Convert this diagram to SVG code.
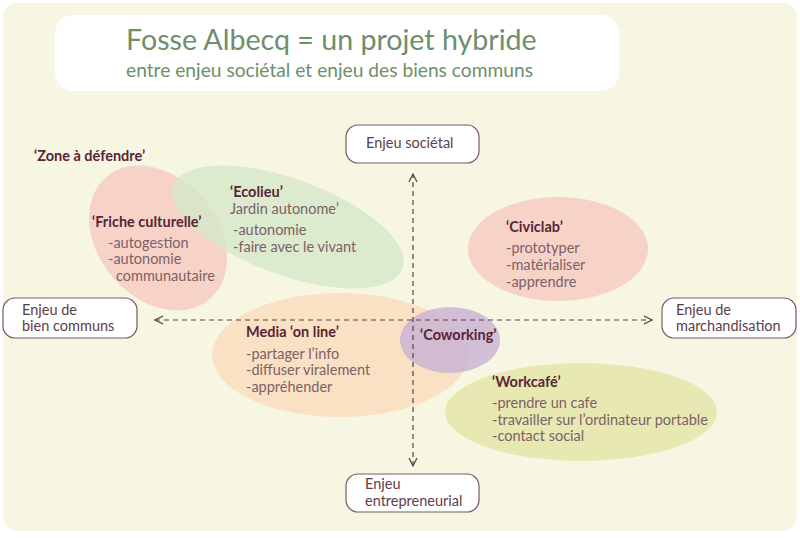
<svg xmlns="http://www.w3.org/2000/svg" width="800" height="538" viewBox="0 0 800 538">
<defs>
<style>
.box{fill:#ffffff;stroke:#7a5a65;stroke-width:1.2}
.lbl{font-family:Lato,"Open Sans","Liberation Sans",sans-serif;font-size:14.5px;fill:#5e3d4a}
.hd{font-family:Lato,"Open Sans","Liberation Sans",sans-serif;font-size:14.5px;font-weight:bold;fill:#5a2438}
.tx{font-family:Lato,"Open Sans","Liberation Sans",sans-serif;font-size:14.5px;fill:#7d6166}
.axis{fill:none;stroke:#5a4048;stroke-width:1.2;stroke-dasharray:5 4}
</style>
<marker id="chev" viewBox="0 0 10 10" refX="9" refY="5" markerWidth="10" markerHeight="10" markerUnits="userSpaceOnUse" orient="auto-start-reverse">
<path d="M1,1 L9,5 L1,9" fill="none" stroke="#5a4048" stroke-width="1.2"/>
</marker>
</defs>
<rect x="0" y="0" width="800" height="538" fill="#ffffff"/>
<rect x="3" y="3" width="794" height="528" rx="14" fill="#f7f6e2"/>
<g id="title">
<rect x="55" y="15" width="564" height="76" rx="18" fill="#ffffff"/>
<text x="126" y="50" font-family="Lato,'Open Sans','Liberation Sans',sans-serif" font-size="28.6" fill="#6d8f6a">Fosse Albecq = un projet hybride</text>
<text x="126" y="77" font-family="Lato,'Open Sans','Liberation Sans',sans-serif" font-size="19.2" fill="#6d8f6a">entre enjeu sociétal et enjeu des biens communs</text>
</g>
<g id="ellipses">
<ellipse id="friche-shape" cx="158" cy="238" rx="80" ry="60" transform="rotate(50 158 238)" fill="#f6cdc1" opacity="0.85"/>
<ellipse id="ecolieu-shape" cx="288" cy="227" rx="122" ry="48" transform="rotate(20 288 227)" fill="#d5e7c9" opacity="0.8"/>
<ellipse id="civiclab-shape" cx="558" cy="249" rx="90" ry="52" fill="#f6cdc1" opacity="0.85"/>
<ellipse id="media-shape" cx="340" cy="355" rx="128" ry="62" fill="#fbdcbc" opacity="0.8"/>
<ellipse id="workcafe-shape" cx="581" cy="412" rx="136" ry="49" fill="#e6e8ad" opacity="0.9"/>
<ellipse id="coworking-shape" cx="450" cy="340" rx="50" ry="33" fill="#c8b0d4" opacity="0.8"/>
</g>
<g id="connectors">
<line class="axis" x1="413" y1="466" x2="413" y2="174" marker-end="url(#chev)" marker-start="url(#chev)"/>
<line class="axis" x1="155" y1="320" x2="652" y2="320" marker-end="url(#chev)" marker-start="url(#chev)"/>
</g>
<g id="enjeu-societal">
<rect class="box" x="346" y="125" width="133" height="38" rx="12"/>
<text class="lbl" x="366" y="148">Enjeu sociétal</text>
</g>
<g id="enjeu-biens-communs">
<rect class="box" x="3" y="298" width="134" height="40" rx="12"/>
<text class="lbl" x="22" y="315">Enjeu de</text>
<text class="lbl" x="22" y="331">bien communs</text>
</g>
<g id="enjeu-marchandisation">
<rect class="box" x="662" y="298" width="134" height="40" rx="12"/>
<text class="lbl" x="676" y="315">Enjeu de</text>
<text class="lbl" x="676" y="331">marchandisation</text>
</g>
<g id="enjeu-entrepreneurial">
<rect class="box" x="346" y="474" width="133" height="38" rx="12"/>
<text class="lbl" x="365" y="489">Enjeu</text>
<text class="lbl" x="365" y="506">entrepreneurial</text>
</g>
<g id="zone">
<text class="hd" x="34" y="161">‘Zone à défendre’</text>
</g>
<g id="ecolieu">
<text class="hd" x="230" y="197">‘Ecolieu’</text>
<text class="tx" x="230" y="214">Jardin autonome’</text>
<text class="tx" x="233" y="235">-autonomie</text>
<text class="tx" x="233" y="252">-faire avec le vivant</text>
</g>
<g id="friche">
<text class="hd" x="92" y="227">‘Friche culturelle’</text>
<text class="tx" x="108" y="248">-autogestion</text>
<text class="tx" x="108" y="264">-autonomie</text>
<text class="tx" x="116" y="281">communautaire</text>
</g>
<g id="civiclab">
<text class="hd" x="506" y="232">‘Civiclab’</text>
<text class="tx" x="506" y="253">-prototyper</text>
<text class="tx" x="506" y="270">-matérialiser</text>
<text class="tx" x="506" y="287">-apprendre</text>
</g>
<g id="media">
<text class="hd" x="246" y="337">Media ‘on line’</text>
<text class="tx" x="246" y="359">-partager l’info</text>
<text class="tx" x="246" y="375">-diffuser viralement</text>
<text class="tx" x="246" y="392">-appréhender</text>
</g>
<g id="coworking">
<text class="hd" x="420" y="340">‘Coworking’</text>
</g>
<g id="workcafe">
<text class="hd" x="492" y="387">‘Workcafé’</text>
<text class="tx" x="492" y="408">-prendre un cafe</text>
<text class="tx" x="492" y="425">-travailler sur l’ordinateur portable</text>
<text class="tx" x="492" y="441">-contact social</text>
</g>
</svg>
